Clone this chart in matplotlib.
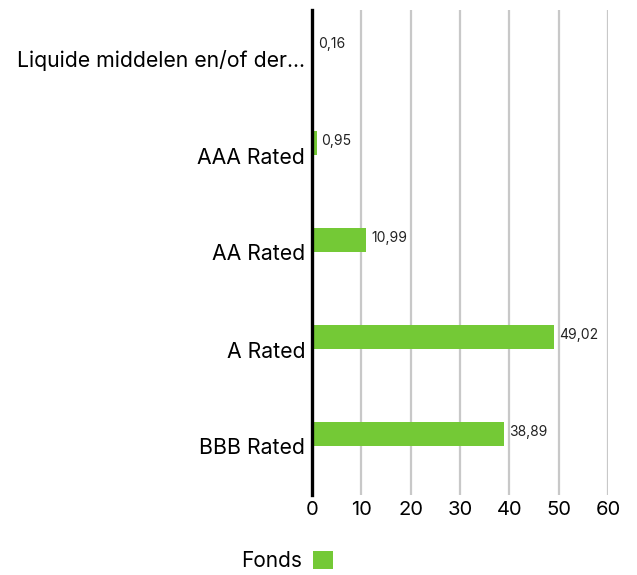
import matplotlib
matplotlib.use('Agg')
import matplotlib.pyplot as plt
from matplotlib.patches import Patch

plt.rcParams['font.family'] = ['Inter', 'DejaVu Sans']

# data
categories = ['Liquide middelen en/of der...', 'AAA Rated', 'AA Rated', 'A Rated', 'BBB Rated']
fonds = [0.16, 0.95, 10.99, 49.02, 38.89]
value_labels = ['0,16', '0,95', '10,99', '49,02', '38,89']
x_ticks = [0, 10, 20, 30, 40, 50, 60]

green = '#74c936'

fig = plt.figure(figsize=(6.37, 5.75), dpi=100)
ax = fig.add_axes([312 / 637, 1 - 495 / 575, 296 / 637, 485 / 575])

pos = list(range(len(categories)))
bar_pos = [p - 0.13 for p in pos]
ax.barh(bar_pos, fonds, height=0.25, color=green, zorder=3)

# value labels next to bars
for y, v, lab in zip(bar_pos, fonds, value_labels):
    ax.annotate(lab, (v, y), xytext=(3.5, 1.5), textcoords='offset points',
                va='center', ha='left', fontsize=10, color='#222222')

ax.set_xlim(0, 60)
ax.set_ylim(len(categories) - 0.5, -0.5)
ax.set_xticks(x_ticks)
ax.set_xticklabels([str(t) for t in x_ticks], fontsize=14.5)
ax.set_yticks(pos)
ax.set_yticklabels(categories, fontsize=15.3)
ax.tick_params(axis='x', length=0, pad=4)
ax.tick_params(axis='y', length=0, pad=5)

ax.grid(axis='x', color='#c8c8c8', linewidth=1.6, zorder=0)
ax.set_axisbelow(True)
for s in ['top', 'right', 'bottom']:
    ax.spines[s].set_visible(False)
ax.spines['left'].set_linewidth(2.4)
ax.spines['left'].set_color('black')
ax.spines['left'].set_zorder(4)

handles = [Patch(facecolor=green, label='Fonds')]
fig.legend(handles=handles, loc='center', bbox_to_anchor=(287 / 637, 1 - 561 / 575),
           frameon=False, markerfirst=False, fontsize=15,
           handlelength=0.95, handleheight=0.95, handletextpad=0.5)

fig.savefig('out.png', dpi=100)
